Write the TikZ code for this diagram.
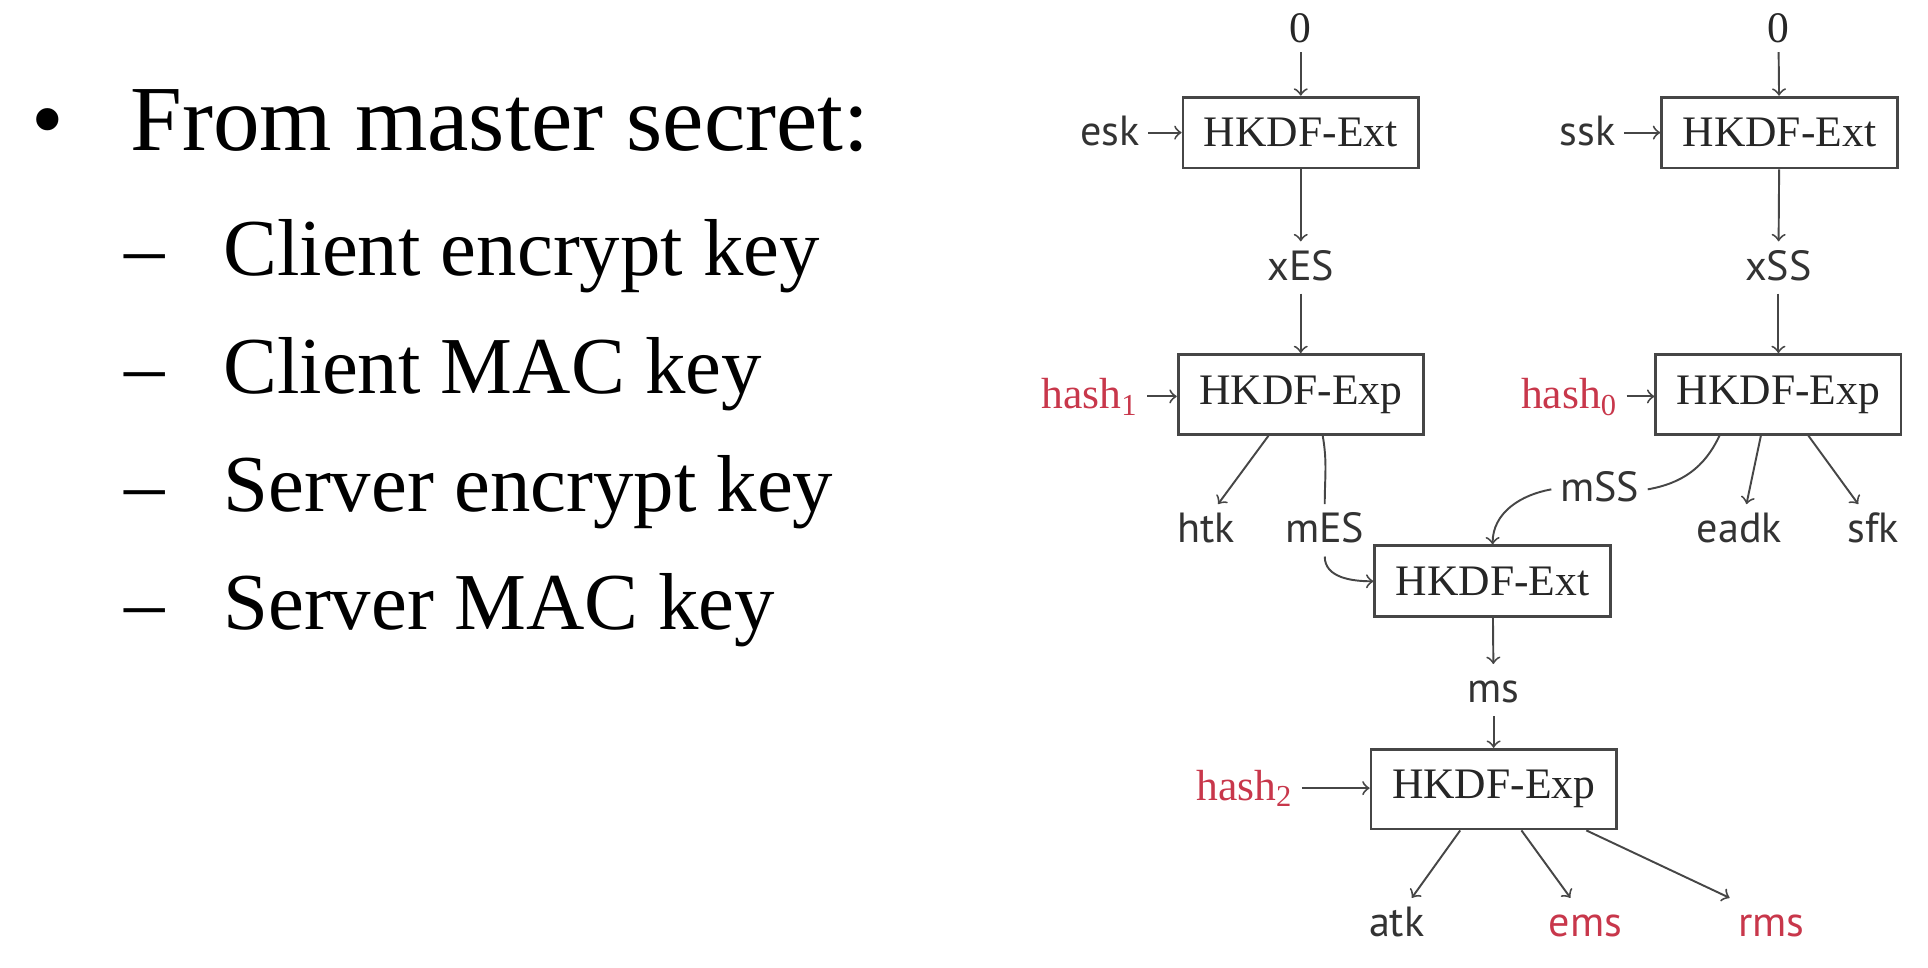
\documentclass[tikz,border=0pt]{standalone}
\usepackage{fontspec}
\setmainfont{Liberation Serif}
\setsansfont{PT Sans}
\usepackage{tikz}
\definecolor{ink}{RGB}{70, 70, 70}
\definecolor{hashred}{RGB}{200, 55, 75}
\tikzset{
  kdf/.style={draw=ink, line width=0.8pt, inner sep=0.21cm, text=black!85,
    font=\fontsize{12.4}{14}\selectfont},
  num/.style={text=black!85, inner sep=0.08cm, font=\fontsize{12.4}{14}\selectfont},
  key/.style={text=black!80, inner sep=0.08cm, text height=0.3cm, text depth=0.05cm,
    font=\sffamily\fontsize{12}{14}\selectfont},
  hsh/.style={text=hashred, inner sep=0.08cm, text height=0.3cm, text depth=0.05cm,
    font=\fontsize{12.4}{14}\selectfont},
  flow/.style={->, >=to, draw=ink, line width=0.55pt},
  bigtext/.style={anchor=base west, inner sep=0pt, font=\fontsize{26.5}{30}\selectfont},
  subtext/.style={anchor=base west, inner sep=0pt, font=\fontsize{23}{26}\selectfont}
}

\begin{document}
\begin{tikzpicture}

  \draw[white] (0, 0) rectangle (19.28, -9.67);

  \node[bigtext] (dot) at (0.30, -1.50) {•};
  \node[bigtext] (head) at (1.29, -1.50) {From master secret:};

  \node[subtext] (dashA) at (1.23, -2.75) {–};
  \node[subtext] (itemA) at (2.22, -2.75) {Client encrypt key};
  \node[subtext] (dashB) at (1.23, -3.93) {–};
  \node[subtext] (itemB) at (2.22, -3.93) {Client MAC key};
  \node[subtext] (dashC) at (1.23, -5.11) {–};
  \node[subtext] (itemC) at (2.22, -5.11) {Server encrypt key};
  \node[subtext] (dashD) at (1.23, -6.29) {–};
  \node[subtext] (itemD) at (2.22, -6.29) {Server MAC key};

  % early secret
  \node[num] (zeroL) at (13.01, -0.28) {0};
  \node[kdf] (extL) at (13.01, -1.32) {HKDF-Ext};
  \node[key] (esk) at (11.10, -1.32) {esk};
  \node[key] (xES) at (13.01, -2.67) {xES};
  \node[kdf] (expL) at (13.01, -3.94) {HKDF-Exp};
  \node[hsh] (hashone) at (10.90, -3.96) {hash\textsubscript{1}};
  \node[key] (htk) at (12.06, -5.30) {htk};
  \node[key] (mES) at (13.25, -5.30) {mES};

  % static secret
  \node[num] (zeroR) at (17.79, -0.28) {0};
  \node[kdf] (extR) at (17.80, -1.32) {HKDF-Ext};
  \node[key] (ssk) at (15.88, -1.32) {ssk};
  \node[key] (xSS) at (17.79, -2.67) {xSS};
  \node[kdf] (expR) at (17.79, -3.94) {HKDF-Exp};
  \node[hsh] (hashzero) at (15.70, -3.96) {hash\textsubscript{0}};
  \node[key] (mSS) at (16.00, -4.89) {mSS};
  \node[key] (eadk) at (17.40, -5.30) {eadk};
  \node[key] (sfk) at (18.74, -5.30) {sfk};

  % master secret
  \node[kdf] (extM) at (14.93, -5.81) {HKDF-Ext};
  \node[key] (ms) at (14.94, -6.90) {ms};
  \node[kdf] (expM) at (14.94, -7.89) {HKDF-Exp};
  \node[hsh] (hashtwo) at (12.45, -7.88) {hash\textsubscript{2}};
  \node[key] (atk) at (13.97, -9.24) {atk};
  \node[key, text=hashred] (ems) at (15.86, -9.24) {ems};
  \node[key, text=hashred] (rms) at (17.72, -9.24) {rms};

  \draw[flow] (zeroL) -- (extL);
  \draw[flow] (esk) -- (extL);
  \draw[flow] (extL) -- (xES);
  \draw[flow] (xES) -- (expL);
  \draw[flow] (hashone.east) -- (hashone.east -| expL.west);
  \draw[flow] (expL.-128) -- (htk.65);
  \draw[ink, line width=0.55pt] (expL.-62) to[out=-80, in=90] (mES.north);
  \draw[flow] (mES.south) to[out=-90, in=180] (extM.west);

  \draw[flow] (zeroR) -- (extR);
  \draw[flow] (ssk) -- (extR);
  \draw[flow] (extR) -- (xSS);
  \draw[flow] (xSS) -- (expR);
  \draw[flow] (hashzero.east) -- (hashzero.east -| expR.west);
  \draw[ink, line width=0.55pt] (expR.-145) to[out=-115, in=10] (mSS.east);
  \draw[flow] (mSS.west) to[out=190, in=90] (extM.north);
  \draw[flow] (expR.-113) -- (eadk.75);
  \draw[flow] (expR.-54) -- (sfk.120);

  \draw[flow] (extM) -- (ms);
  \draw[flow] (ms) -- (expM);
  \draw[flow] (hashtwo.east) -- (hashtwo.east -| expM.west);
  \draw[flow] (expM.-129) -- (atk.60);
  \draw[flow] (expM.-56) -- (ems.120);
  \draw[flow] (expM.-24) -- (rms.north west);

\end{tikzpicture}
\end{document}
